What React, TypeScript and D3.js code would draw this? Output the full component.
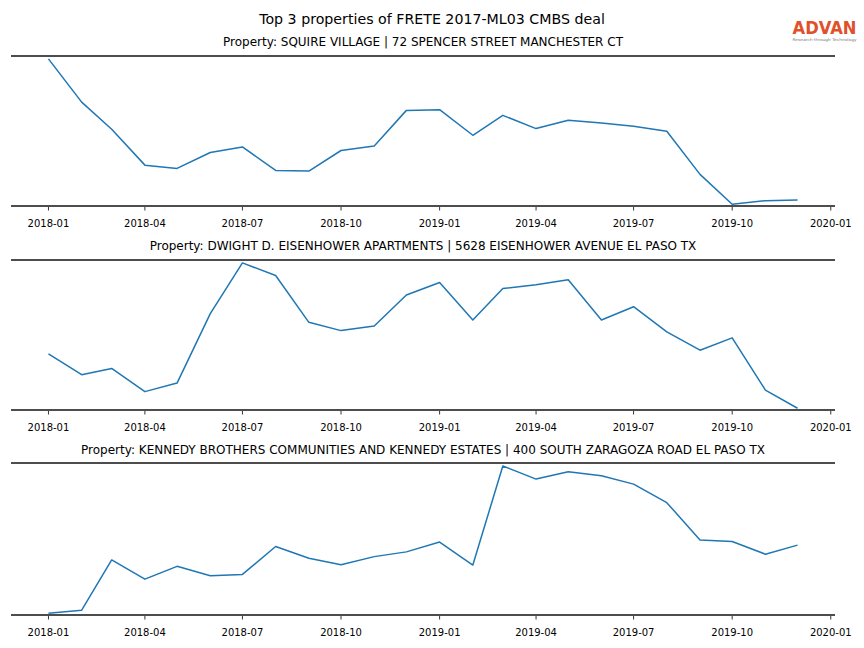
import React from "react";
import * as d3 from "d3";

const months: string[] = [
  "2018-01","2018-02","2018-03","2018-04","2018-05","2018-06","2018-07","2018-08","2018-09","2018-10","2018-11","2018-12",
  "2019-01","2019-02","2019-03","2019-04","2019-05","2019-06","2019-07","2019-08","2019-09","2019-10","2019-11","2019-12",
];

const titles: string[] = [
  "Property: SQUIRE VILLAGE | 72 SPENCER STREET MANCHESTER CT",
  "Property: DWIGHT D. EISENHOWER APARTMENTS | 5628 EISENHOWER AVENUE EL PASO TX",
  "Property: KENNEDY BROTHERS COMMUNITIES AND KENNEDY ESTATES | 400 SOUTH ZARAGOZA ROAD EL PASO TX",
];

const squireVillage: number[] = [
  147.7, 104.3, 77.0, 41.0, 37.7, 53.7, 59.3, 35.7, 35.0, 55.7, 60.3, 96.0,
  96.7, 71.0, 91.0, 77.7, 86.0, 83.3, 80.0, 75.0, 31.7, 1.7, 5.3, 6.0,
];
const eisenhower: number[] = [
  55.7, 34.7, 41.0, 17.7, 26.3, 96.0, 147.0, 134.3, 87.3, 79.0, 83.7, 114.7,
  127.3, 89.7, 121.3, 125.0, 130.0, 89.7, 103.0, 77.7, 59.3, 71.7, 19.3, 1.0,
];
const kennedy: number[] = [
  2.3, 5.3, 55.0, 36.0, 48.7, 39.3, 40.7, 68.3, 56.7, 50.3, 58.3, 63.0,
  72.7, 50.0, 148.0, 135.0, 142.3, 138.3, 130.0, 111.7, 74.7, 73.3, 60.7, 69.7,
];

const seriesList: number[][] = [squireVillage, eisenhower, kennedy];
const tickLabels: string[] = [
  "2018-01","2018-04","2018-07","2018-10","2019-01","2019-04","2019-07","2019-10","2020-01",
];

const W = 864;
const H = 648;
const left = 11;
const right = 835;
const panels = [
  { top: 56, bottom: 206, titleY: 46 },
  { top: 260, bottom: 410, titleY: 250 },
  { top: 463, bottom: 615, titleY: 454 },
];

const parse = d3.timeParse("%Y-%m");
const font = "DejaVu Sans, sans-serif";

export default function App() {
  const dates = months.map((m) => parse(m) as Date);
  const t0 = dates[0].getTime();
  const t1 = dates[dates.length - 1].getTime();
  const pad = (t1 - t0) * 0.05;
  const x = d3
    .scaleTime()
    .domain([new Date(t0 - pad), new Date(t1 + pad)])
    .range([left, right]);
  const ticks = tickLabels.map((s) => parse(s) as Date);

  return (
    <svg
      width={W}
      height={H}
      style={{ position: "absolute", left: 0, top: 0, background: "#fff" }}
      fontFamily={font}
    >
      <rect x={0} y={0} width={W} height={H} fill="#fff" />
      <text x={432} y={24} textAnchor="middle" fontSize={14.2} fill="#000">
        Top 3 properties of FRETE 2017-ML03 CMBS deal
      </text>
      <g>
        <text x={824.5} y={34} textAnchor="middle" fontSize={18} fontWeight="bold" fill="#e0502a" textLength={64} lengthAdjust="spacingAndGlyphs">
          ADVAN
        </text>
        <text x={824.5} y={41} textAnchor="middle" fontSize={3.8} fill="#777" textLength={64} lengthAdjust="spacingAndGlyphs">
          Research through Technology
        </text>
      </g>
      {seriesList.map((vals, i) => {
        const p = panels[i];
        const mn = d3.min(vals) as number;
        const mx = d3.max(vals) as number;
        const r = mx - mn;
        const y = d3
          .scaleLinear()
          .domain([mn - r * 0.012, mx + r * 0.02])
          .range([p.bottom, p.top]);
        const line = d3
          .line<number>()
          .x((_, j) => x(dates[j]))
          .y((v) => y(v));
        return (
          <g key={i}>
            <text x={423} y={p.titleY} textAnchor="middle" fontSize={12} fill="#000">
              {titles[i]}
            </text>
            <path d={line(vals) || ""} fill="none" stroke="#1f77b4" strokeWidth={1.5} strokeLinejoin="round" />
            <line x1={left} x2={right} y1={p.top} y2={p.top} stroke="#4d4d4d" strokeWidth={2} />
            <line x1={left} x2={right} y1={p.bottom} y2={p.bottom} stroke="#4d4d4d" strokeWidth={2} />
            {ticks.map((t, k) => (
              <g key={k} transform={`translate(${x(t)},${p.bottom})`}>
                <line y1={1} y2={4.5} stroke="#000" strokeWidth={0.8} />
                <text y={20.5} textAnchor="middle" fontSize={10} fill="#000">
                  {tickLabels[k]}
                </text>
              </g>
            ))}
          </g>
        );
      })}
    </svg>
  );
}
